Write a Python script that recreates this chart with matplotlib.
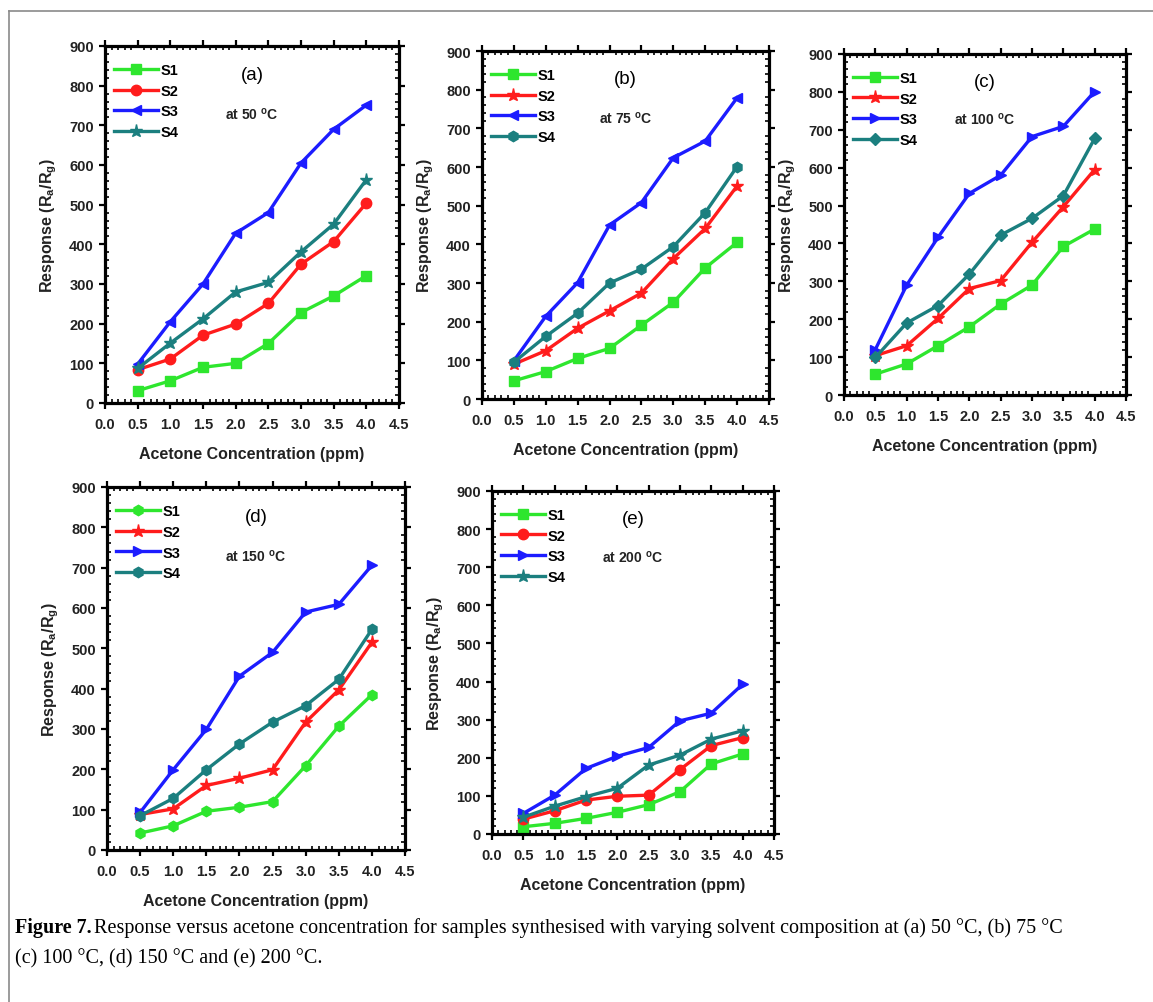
"""
Response vs acetone concentration, five panels (a)-(e)
"""

import matplotlib.pyplot as plt
from matplotlib.lines import Line2D
from matplotlib.ticker import MultipleLocator

plt.rcParams['font.family'] = ['Liberation Sans', 'DejaVu Sans']
plt.rcParams['mathtext.fontset'] = 'custom'
plt.rcParams['mathtext.rm'] = 'Liberation Sans:bold'
plt.rcParams['mathtext.bf'] = 'Liberation Sans:bold'
plt.rcParams['mathtext.default'] = 'bf'

# acetone concentration (ppm)
conc = [0.5, 1.0, 1.5, 2.0, 2.5, 3.0, 3.5, 4.0]
series_names = ['S1', 'S2', 'S3', 'S4']

# (a) 50 C
a_s1 = [31, 56, 90, 100, 150, 228, 270, 321]
a_s2 = [84, 111, 171, 199, 251, 350, 407, 504]
a_s3 = [98, 205, 300, 428, 480, 605, 690, 751]
a_s4 = [87, 151, 212, 280, 304, 381, 451, 563]

# (b) 75 C
b_s1 = [47, 71, 105, 131, 191, 250, 339, 405]
b_s2 = [90, 125, 183, 228, 274, 363, 441, 551]
b_s3 = [99, 214, 301, 450, 508, 624, 667, 779]
b_s4 = [95, 162, 222, 300, 336, 394, 482, 601]

# (c) 100 C
c_s1 = [55, 82, 130, 180, 240, 290, 392, 438]
c_s2 = [104, 130, 202, 281, 302, 403, 497, 595]
c_s3 = [120, 290, 416, 532, 580, 682, 709, 801]
c_s4 = [99, 190, 236, 319, 422, 466, 526, 677]

# (d) 150 C
d_s1 = [42, 60, 96, 106, 120, 209, 307, 385]
d_s2 = [88, 102, 160, 178, 199, 317, 397, 515]
d_s3 = [93, 199, 299, 431, 490, 590, 609, 706]
d_s4 = [85, 128, 199, 263, 317, 358, 423, 547]

# (e) 200 C
e_s1 = [19, 28, 41, 57, 77, 111, 184, 210]
e_s2 = [39, 61, 89, 99, 102, 169, 232, 253]
e_s3 = [54, 102, 172, 204, 227, 297, 317, 393]
e_s4 = [44, 73, 98, 120, 181, 207, 249, 271]

colors = ['#2ee62e', '#ff1c1c', '#1c1cff', '#1b7f7f']

W, H = 1153, 1003


def px_box(left, right, top, bottom):
    return [left / W, (H - bottom) / H, (right - left) / W, (bottom - top) / H]


panels = [
    ('(a)', '50', [a_s1, a_s2, a_s3, a_s4], ['s', 'o', '<', '*'], px_box(105, 399, 47, 404)),
    ('(b)', '75', [b_s1, b_s2, b_s3, b_s4], ['s', '*', '<', 'h'], px_box(482, 769, 52, 400)),
    ('(c)', '100', [c_s1, c_s2, c_s3, c_s4], ['s', '*', '>', 'D'], px_box(844, 1126, 55, 396)),
    ('(d)', '150', [d_s1, d_s2, d_s3, d_s4], ['h', '*', '>', 'h'], px_box(107, 405, 488, 851)),
    ('(e)', '200', [e_s1, e_s2, e_s3, e_s4], ['s', 'o', '>', '*'], px_box(492, 774, 492, 835)),
]

fig = plt.figure(figsize=(W / 100, H / 100), dpi=100)

# grey frame (top and left edges)
fig.add_artist(Line2D([9 / W, 9 / W], [0, 1 - 12 / H], transform=fig.transFigure,
                      color='#8a8a8a', lw=1.2))
fig.add_artist(Line2D([9 / W, 1], [1 - 12 / H, 1 - 12 / H], transform=fig.transFigure,
                      color='#8a8a8a', lw=1.2))

for tag, temp, ys, markers, box in panels:
    ax = fig.add_axes(box)
    for name, y, m, c in zip(series_names, ys, markers, colors):
        ms = 9.5 if m == '*' else 7.5
        if m == 'D':
            ms = 6.5
        ax.plot(conc, y, color=c, marker=m, markersize=ms, lw=2.4, label=name)

    ax.set_xlim(0, 4.5)
    ax.set_ylim(0, 900)
    ax.xaxis.set_major_locator(MultipleLocator(0.5))
    ax.xaxis.set_minor_locator(MultipleLocator(0.1))
    ax.yaxis.set_major_locator(MultipleLocator(100))
    ax.yaxis.set_minor_locator(MultipleLocator(20))
    ax.xaxis.set_major_formatter(plt.FuncFormatter(lambda v, p: f'{v:.1f}'))
    for s in ax.spines.values():
        s.set_linewidth(2.3)
    ax.tick_params(which='major', direction='out', length=4, width=1.6,
                   labelsize=10.5, pad=4)
    ax.tick_params(axis='x', which='major', pad=6)
    ax.tick_params(which='minor', direction='in', length=3, width=1.2,
                   top=True, right=True)
    ax.tick_params(which='major', top=True, right=True)
    for lab in ax.get_xticklabels() + ax.get_yticklabels():
        lab.set_fontweight('bold')
        lab.set_color('#222222')

    ax.set_xlabel('Acetone Concentration (ppm)', fontsize=11.5, fontweight='bold',
                  labelpad=11, color='#222222')
    ax.set_ylabel(r'Response (R$_a$/R$_g$)', fontsize=11.5, fontweight='bold',
                  labelpad=7, color='#222222')

    ax.legend(loc='upper left', bbox_to_anchor=(0.0, 0.978), frameon=False,
              handlelength=3.0, handletextpad=0.15, labelspacing=0.45,
              borderaxespad=0.25, prop={'weight': 'bold', 'size': 10.5})

    ax.text(0.5, 0.92, tag, transform=ax.transAxes, ha='center', va='center',
            fontsize=13.5)
    ax.text(0.5, 0.81, f'at {temp} ' + r'$^{\mathbf{o}}$C', transform=ax.transAxes,
            ha='center', va='center', fontsize=10, fontweight='bold',
            color='#222222')

# caption
cap_size = 14.5
t1 = fig.text(15 / W, 1 - 933 / H, 'Figure 7.', fontsize=cap_size, fontweight='bold',
              family='Liberation Serif', va='baseline')
fig.canvas.draw()
ext = t1.get_window_extent()
fig.text((ext.x1 + 2) / W, 1 - 933 / H,
         'Response versus acetone concentration for samples synthesised with varying '
         'solvent composition at (a) 50 \u00b0C, (b) 75 \u00b0C',
         fontsize=cap_size, family='Liberation Serif', va='baseline')
fig.text(15 / W, 1 - 963 / H, '(c) 100 \u00b0C, (d) 150 \u00b0C and (e) 200 \u00b0C.',
         fontsize=cap_size, family='Liberation Serif', va='baseline')

fig.savefig('out.png', dpi=100)
